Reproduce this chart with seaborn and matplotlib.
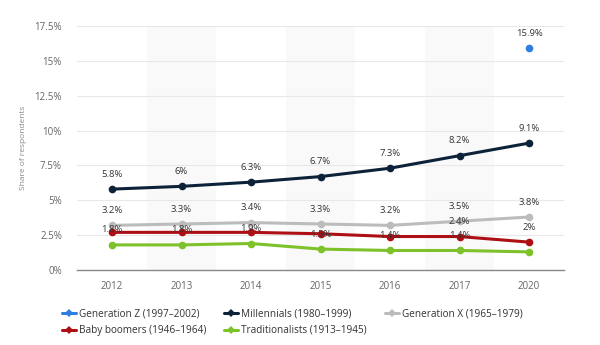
import matplotlib
matplotlib.use("Agg")
import matplotlib.pyplot as plt
import seaborn as sns
import pandas as pd
import numpy as np
from matplotlib.lines import Line2D

years = ["2012", "2013", "2014", "2015", "2016", "2017", "2020"]
series_names = ["Generation Z (1997–2002)", "Millennials (1980–1999)", "Generation X (1965–1979)",
                "Baby boomers (1946–1964)", "Traditionalists (1913–1945)"]
gen_z = [None, None, None, None, None, None, 15.9]
millennials = [5.8, 6.0, 6.3, 6.7, 7.3, 8.2, 9.1]
gen_x = [3.2, 3.3, 3.4, 3.3, 3.2, 3.5, 3.8]
boomers = [2.7, 2.7, 2.7, 2.6, 2.4, 2.4, 2.0]
traditionalists = [1.8, 1.8, 1.9, 1.5, 1.4, 1.4, 1.3]
# which labels are visible in the reference (others hidden by overlap)
show_z = [False] * 6 + [True]
show_mill = [True] * 7
show_x = [True] * 7
show_boom = [False, False, False, False, False, True, True]
show_trad = [True] * 6 + [False]

colors = ["#2d7ee0", "#0c2239", "#bcbcbc", "#ad0f14", "#7dc12b"]
all_vals = [gen_z, millennials, gen_x, boomers, traditionalists]
all_show = [show_z, show_mill, show_x, show_boom, show_trad]

rows = []
for name, vals in zip(series_names, all_vals):
    for i, v in enumerate(vals):
        if v is not None:
            rows.append({"pos": i, "value": v, "gen": name})
df = pd.DataFrame(rows)

sns.set_style("white")
plt.rcParams["font.family"] = ["Open Sans", "DejaVu Sans"]

fig = plt.figure(figsize=(6, 3.45), dpi=100)
ax = fig.add_axes([77.25 / 600, 1 - 270 / 345, (563.75 - 77.25) / 600, (270 - 26) / 345])

# alternating background bands
for i in range(len(years)):
    if i % 2 == 1:
        ax.axvspan(i - 0.5, i + 0.5, color="#f9f9f9", zorder=0, lw=0)

for yv in np.arange(2.5, 17.6, 2.5):
    ax.axhline(yv, color="#e8e8e8", lw=0.8, zorder=1)

palette = dict(zip(series_names, colors))
sns.lineplot(data=df, x="pos", y="value", hue="gen", hue_order=series_names, palette=palette,
             marker="o", markersize=5.5, markeredgewidth=0, linewidth=2.2, ax=ax, legend=False,
             zorder=3)

def fmt(v):
    s = f"{v:.1f}"
    if s.endswith(".0"):
        s = s[:-2]
    return s + "%"

for vals, shows in zip(all_vals, all_show):
    for i, (v, s) in enumerate(zip(vals, shows)):
        if v is not None and s:
            ax.text(i, v + 0.75, fmt(v), ha="center", va="bottom", fontsize=6.8,
                    color="#333333", zorder=5)

ax.set_xlim(-0.5, len(years) - 0.5)
ax.set_ylim(0, 17.5)
ax.set_xticks(range(len(years)))
ax.set_xticklabels(years)
yt = np.arange(0, 17.6, 2.5)
ax.set_yticks(yt)
ax.set_yticklabels([fmt(v) for v in yt])
ax.tick_params(axis="both", labelsize=7, colors="#666666", length=0)
ax.tick_params(axis="y", pad=11)
ax.tick_params(axis="x", pad=8)
ax.set_xlabel("")
ax.set_ylabel("Share of respondents", fontsize=6, color="#888888")
ax.yaxis.set_label_coords((27 - 77.25) / 486.5, 0.5)
for sp in ["top", "right", "left"]:
    ax.spines[sp].set_visible(False)
ax.spines["bottom"].set_color("#888888")
ax.spines["bottom"].set_linewidth(1.0)

handles = [Line2D([0], [0], color=c, lw=2.2, marker="D", markersize=4.5, markeredgewidth=0)
           for c in colors]
order = [0, 3, 1, 4, 2]
fig.legend([handles[i] for i in order], [series_names[i] for i in order],
           loc="upper left", bbox_to_anchor=(62 / 600, 1 - 308 / 345), ncol=3, frameon=False,
           fontsize=7.2, handlelength=1.4, handletextpad=0.3, columnspacing=1.8,
           labelspacing=0.6, borderaxespad=0, borderpad=0, labelcolor="#333333")

fig.savefig("out.png", dpi=100)
